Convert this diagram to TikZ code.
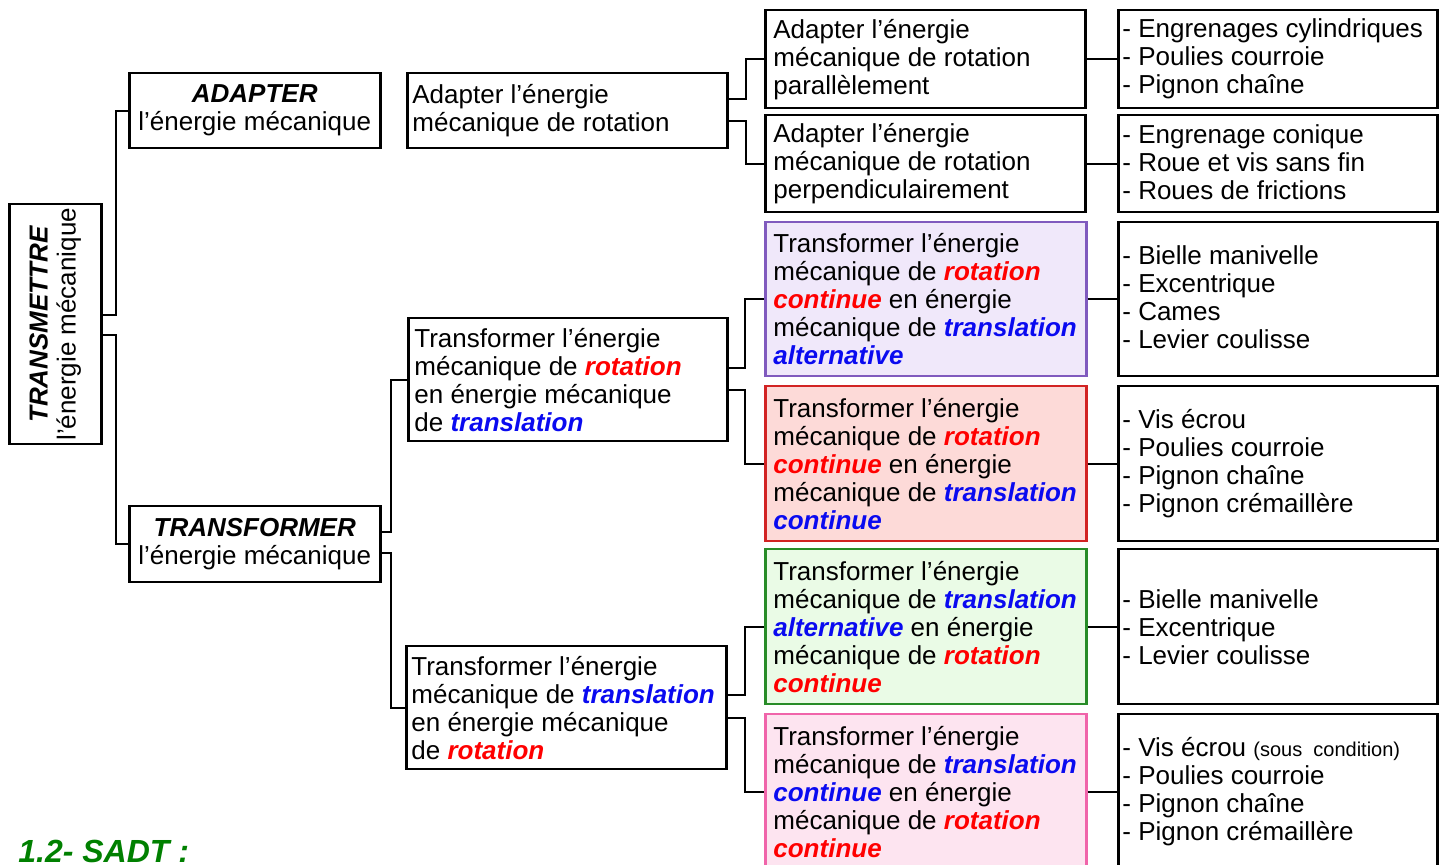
\documentclass[tikz,border=0pt]{standalone}
\usepackage{fontspec}
\setmainfont{Liberation Sans}
\definecolor{txred}{RGB}{255,0,0}
\definecolor{txblue}{RGB}{10,10,240}
\definecolor{purplefill}{RGB}{240,232,250}
\definecolor{purpledraw}{RGB}{128,90,190}
\definecolor{redfill}{RGB}{253,218,216}
\definecolor{reddraw}{RGB}{210,35,35}
\definecolor{greenfill}{RGB}{234,251,230}
\definecolor{greendraw}{RGB}{40,140,40}
\definecolor{pinkfill}{RGB}{253,228,240}
\definecolor{pinkdraw}{RGB}{240,100,170}
\definecolor{titlegreen}{RGB}{0,128,0}
\newcommand\rdw[1]{\textcolor{txred}{\textbf{\textit{#1}}}}
\newcommand\blw[1]{\textcolor{txblue}{\textbf{\textit{#1}}}}
\begin{document}
\begin{tikzpicture}[x=0.5pt,y=-0.5pt,
  boxst/.style={draw, line width=1.25pt, anchor=north west, inner sep=0pt},
  txt/.style={anchor=west, align=left, inner sep=0pt, font=\fontsize{13}{14}\selectfont},
  ctxt/.style={anchor=center, align=center, inner sep=0pt, font=\fontsize{13}{14}\selectfont},
  conn/.style={line width=1pt, line join=miter}]
\useasboundingbox (0,0) rectangle (1447,865);
\clip (0,0) rectangle (1447,865);

% level 0
\node[boxst, minimum width=46pt, minimum height=120pt] (tm) at (8,203) {};
\node[ctxt, rotate=90] (tmt) at (tm.center) {\textbf{\textit{TRANSMETTRE}}\\l’énergie mécanique};

% level 1
\node[boxst, minimum width=125.5pt, minimum height=37.5pt] (adp) at (128,72) {};
\node[ctxt] (adpt) at (adp.center) {\textbf{\textit{ADAPTER}}\\l’énergie mécanique};
\node[boxst, minimum width=125.5pt, minimum height=38pt] (trf) at (128,505) {};
\node[ctxt] (trft) at (trf.center) {\textbf{\textit{TRANSFORMER}}\\l’énergie mécanique};

% level 2
\node[boxst, minimum width=160pt, minimum height=37.5pt] (ar) at (406,72) {};
\node[txt] (art) at ([xshift=3pt]ar.west) {Adapter l’énergie\\mécanique de rotation};
\node[boxst, minimum width=159.5pt, minimum height=61.5pt] (rt) at (407,317) {};
\node[txt] (rtt) at ([xshift=3.5pt]rt.west) {Transformer l’énergie\\mécanique de \rdw{rotation}\\en énergie mécanique\\de \blw{translation}};
\node[boxst, minimum width=160pt, minimum height=61.5pt] (tr) at (405,645) {};
\node[txt] (trt) at ([xshift=3pt]tr.west) {Transformer l’énergie\\mécanique de \blw{translation}\\en énergie mécanique\\de \rdw{rotation}};

% level 3
\node[boxst, minimum width=160pt, minimum height=49pt] (a1) at (764,9) {};
\node[txt] (a1t) at ([xshift=4.5pt]a1.west) {Adapter l’énergie\\mécanique de rotation\\parallèlement};
\node[boxst, minimum width=160pt, minimum height=48.5pt] (a2) at (764,114) {};
\node[txt] (a2t) at ([xshift=4.5pt]a2.west) {Adapter l’énergie\\mécanique de rotation\\perpendiculairement};
\node[boxst, draw=purpledraw, fill=purplefill, minimum width=160.5pt, minimum height=77pt] (p1) at (764,221) {};
\node[txt] (p1t) at ([xshift=4.5pt]p1.west) {Transformer l’énergie\\mécanique de \rdw{rotation}\\\rdw{continue} en énergie\\mécanique de \blw{translation}\\\blw{alternative}};
\node[boxst, draw=reddraw, fill=redfill, minimum width=160.5pt, minimum height=77.5pt] (p2) at (764,385) {};
\node[txt] (p2t) at ([xshift=4.5pt]p2.west) {Transformer l’énergie\\mécanique de \rdw{rotation}\\\rdw{continue} en énergie\\mécanique de \blw{translation}\\\blw{continue}};
\node[boxst, draw=greendraw, fill=greenfill, minimum width=160.5pt, minimum height=77.5pt] (p3) at (764,548) {};
\node[txt] (p3t) at ([xshift=4.5pt]p3.west) {Transformer l’énergie\\mécanique de \blw{translation}\\\blw{alternative} en énergie\\mécanique de \rdw{rotation}\\\rdw{continue}};
\node[boxst, draw=pinkdraw, fill=pinkfill, minimum width=160.5pt, minimum height=77.5pt] (p4) at (764,713) {};
\node[txt] (p4t) at ([xshift=4.5pt]p4.west) {Transformer l’énergie\\mécanique de \blw{translation}\\\blw{continue} en énergie\\mécanique de \rdw{rotation}\\\rdw{continue}};

% level 4 (lists)
\node[boxst, minimum width=159.5pt, minimum height=49pt] (l1) at (1117,9) {};
\node[txt] (l1t) at ([xshift=2.5pt]l1.west) {- Engrenages cylindriques\\- Poulies courroie\\- Pignon chaîne};
\node[boxst, minimum width=159.5pt, minimum height=48.5pt] (l2) at (1117,114) {};
\node[txt] (l2t) at ([xshift=2.5pt,yshift=1pt]l2.west) {- Engrenage conique\\- Roue et vis sans fin\\- Roues de frictions};
\node[boxst, minimum width=159.5pt, minimum height=77pt] (l3) at (1117,221) {};
\node[txt] (l3t) at ([xshift=2.5pt,yshift=1pt]l3.west) {- Bielle manivelle\\- Excentrique\\- Cames\\- Levier coulisse};
\node[boxst, minimum width=159.5pt, minimum height=77.5pt] (l4) at (1117,385) {};
\node[txt] (l4t) at ([xshift=2.5pt]l4.west) {- Vis écrou\\- Poulies courroie\\- Pignon chaîne\\- Pignon crémaillère};
\node[boxst, minimum width=159.5pt, minimum height=77.5pt] (l5) at (1117,548) {};
\node[txt] (l5t) at ([xshift=2.5pt]l5.west) {- Bielle manivelle\\- Excentrique\\- Levier coulisse};
\node[boxst, minimum width=159.5pt, minimum height=77.5pt] (l6) at (1117,713) {};
\node[txt] (l6t) at ([xshift=2.5pt]l6.west) {- Vis écrou {\fontsize{10}{14}\selectfont(sous\ \ condition)}\\- Poulies courroie\\- Pignon chaîne\\- Pignon crémaillère};

% title
\node[anchor=base west, inner sep=0pt, font=\fontsize{16}{18}\selectfont\bfseries\itshape, text=titlegreen] (ttl) at (18,863) {1.2- SADT :};

% connectors
\coordinate (k1) at (116,315); \coordinate (k2) at (116,335);
\draw[conn] (tm.east |- k1) -- (k1) |- (adp.west);
\draw[conn] (tm.east |- k2) -- (k2) |- (trf.west);
\coordinate (k3) at (391,532); \coordinate (k4) at (391,553);
\draw[conn] (trf.east |- k3) -- (k3) |- (rt.west);
\draw[conn] (trf.east |- k4) -- (k4) |- (tr.west);
\coordinate (k5) at (746,99.5); \coordinate (k6) at (746,121.5);
\draw[conn] (ar.east |- k5) -- (k5) |- (a1.west);
\draw[conn] (ar.east |- k6) -- (k6) |- (a2.west);
\coordinate (k7) at (745,368); \coordinate (k8) at (745,390);
\draw[conn] (rt.east |- k7) -- (k7) |- (p1.west);
\draw[conn] (rt.east |- k8) -- (k8) |- (p2.west);
\coordinate (k9) at (745,695); \coordinate (k10) at (745,718);
\draw[conn] (tr.east |- k9) -- (k9) |- (p3.west);
\draw[conn] (tr.east |- k10) -- (k10) |- (p4.west);
\draw[conn] (a1.east) -- (l1.west);
\draw[conn] (a2.east) -- (l2.west);
\draw[conn] (p1.east) -- (l3.west);
\draw[conn] (p2.east) -- (l4.west);
\draw[conn] (p3.east) -- (l5.west);
\draw[conn] (p4.east) -- (l6.west);
\end{tikzpicture}
\end{document}
